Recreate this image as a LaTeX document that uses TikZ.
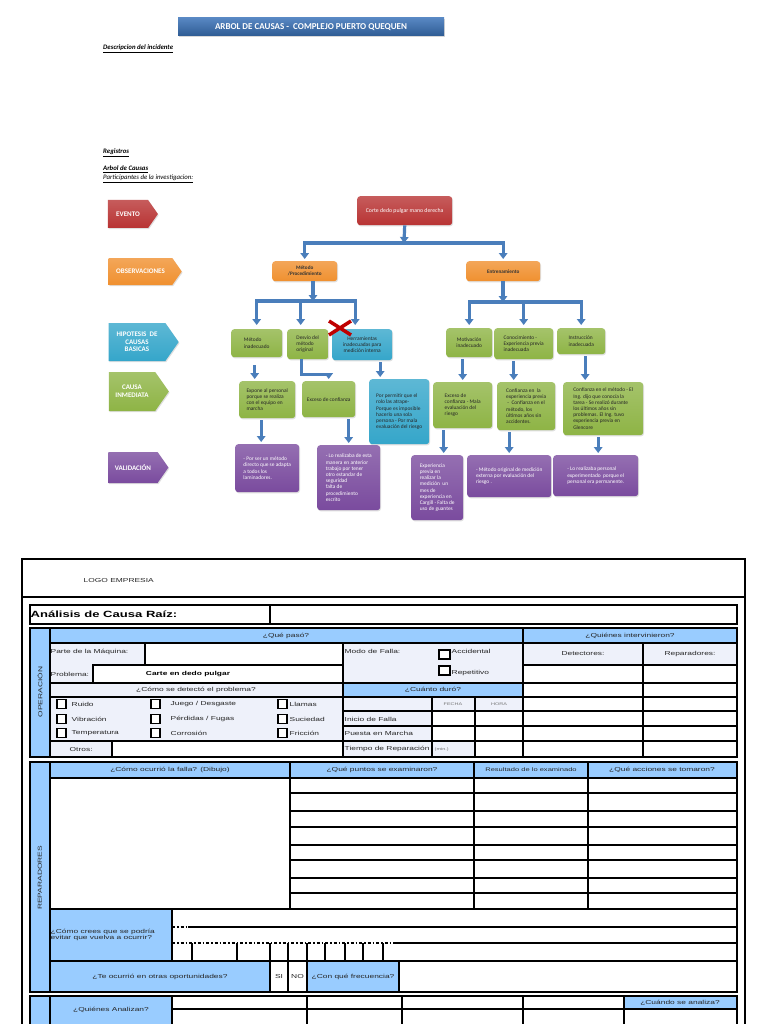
\documentclass[tikz,border=0pt]{standalone}
\usepackage{fontspec}
\setmainfont{Carlito}
\newfontfamily\formfont[FakeStretch=1.45]{Liberation Sans}
\usepackage{xcolor}
\usetikzlibrary{positioning, arrows.meta, calc, shapes.symbols, shadows}

\definecolor{evred}{HTML}{B83333}
\definecolor{obsorange}{HTML}{F0902F}
\definecolor{hypcyan}{HTML}{35A6CA}
\definecolor{cigreen}{HTML}{8EB445}
\definecolor{valpurple}{HTML}{7A4B9E}
\definecolor{connblue}{HTML}{4A7EBB}
\definecolor{titleblue}{HTML}{3A72B8}
\definecolor{formblue}{HTML}{99CCFF}
\definecolor{formlight}{HTML}{EEF1FA}

\begin{document}
\begin{tikzpicture}[
    x=1pt, y=-1pt,
    tree/.style={rounded corners=3pt, anchor=north west, align=left,
                 inner sep=2pt, font=\fontsize{5.4}{6.2}\selectfont,
                 drop shadow={opacity=0.25, shadow xshift=0.8pt, shadow yshift=-1.2pt}},
    redbox/.style={tree, top color=evred!80, bottom color=evred, text=white, align=center},
    orangebox/.style={tree, top color=obsorange!80, bottom color=obsorange, text=black!80,
                      align=center, font=\fontsize{5.2}{6}\selectfont\bfseries},
    greenbox/.style={tree, top color=cigreen!80, bottom color=cigreen, text=black!85},
    cyanbox/.style={tree, top color=hypcyan!80, bottom color=hypcyan, text=black!85},
    purplebox/.style={tree, top color=valpurple!80, bottom color=valpurple, text=white},
    tag/.style={signal, signal to=east, signal pointer angle=110, align=center,
                inner sep=1pt, text=white, font=\fontsize{7}{7.6}\selectfont\bfseries,
                drop shadow={opacity=0.25, shadow xshift=0.8pt, shadow yshift=-1.2pt}},
    titlebar/.style={top color=titleblue!85, bottom color=titleblue!80!black, text=white,
                     font=\fontsize{9}{10}\selectfont\bfseries,
                     drop shadow={opacity=0.3, shadow xshift=1pt, shadow yshift=-1.5pt}},
    head/.style={anchor=west, inner sep=0pt, font=\fontsize{6.8}{7.4}\selectfont\bfseries\itshape},
    conn/.style={-{Triangle[width=8.5pt,length=6pt]}, draw=connblue, line width=3.2pt,
                 shorten >=2pt},
    xmark/.style={draw=red!75!black, line width=3.5pt},
    % form
    grid/.style={draw=black, line width=1.5pt},
    frame/.style={draw=black, line width=1.5pt},
    cellblue/.style={fill=formblue},
    celllight/.style={fill=formlight},
    chkbox/.style={draw=black, line width=1.4pt, fill=white},
    ftxt/.style={inner sep=0.5pt, text=black!85, font=\formfont\fontsize{5.8}{6.6}\selectfont},
    fsmall/.style={inner sep=0.5pt, text=black!55, font=\formfont\fontsize{3.8}{4.4}\selectfont},
]

\fill[white] (0,0) rectangle (768,1024);
\useasboundingbox (0,0) rectangle (768,1024);

% Title and headings
\node[titlebar, minimum width=266, minimum height=18] (titulo) at (311,27)
  {ARBOL DE CAUSAS -\ \ COMPLEJO PUERTO QUEQUEN};
\node[head] (desc) at (103,49) {\underline{Descripcion del incidente}};
\node[head] (regis) at (103,153) {\underline{Registros}};
\node[head] (arbol) at (103,169) {\underline{Arbol de Causas}};
\node[head, font=\fontsize{6.8}{7.4}\selectfont\itshape] (partic) at (103,179)
  {\underline{Participantes de la investigacion:}};

% Level tags (left column)
\node[tag, top color=evred!80, bottom color=evred, minimum width=50, minimum height=28] (evento) at (128,214) {EVENTO};
\node[tag, top color=obsorange!80, bottom color=obsorange, minimum width=73, minimum height=27] (obs) at (140.5,271.5) {OBSERVACIONES};
\node[tag, top color=hypcyan!80, bottom color=hypcyan, minimum width=70, minimum height=38] (hip) at (137,342) {HIPOTESIS\ \ DE\\CAUSAS\\BASICAS};
\node[tag, top color=cigreen!80, bottom color=cigreen, minimum width=60, minimum height=39] (causa) at (132,391.5) {CAUSA\\INMEDIATA};
\node[tag, top color=valpurple!80, bottom color=valpurple, minimum width=60, minimum height=31] (valid) at (133,467.5) {VALIDACIÓN};

% Event and observations
\node[redbox, minimum width=95, minimum height=29, font=\fontsize{5.8}{6.6}\selectfont] (corte) at (357,196) {Corte dedo pulgar mano derecha};
\node[orangebox, minimum width=65, minimum height=20] (metodo) at (272,261) {Método\\/Procedimiento};
\node[orangebox, minimum width=74, minimum height=20] (entren) at (466,261) {Entrenamiento};

% Basic cause hypotheses
\node[greenbox, minimum width=51, minimum height=28] (hcb1) at (231,329) {Método\\inadecuado};
\node[greenbox, minimum width=41, minimum height=30] (hcb2) at (287,329) {Desvío del\\método\\original};
\node[cyanbox, minimum width=60, minimum height=31, align=center] (hcb3) at (332,329) {Herramientas\\inadecuadas para\\medición interna};
\node[greenbox, minimum width=46, minimum height=29, align=center] (hcb4) at (446,328) {Motivación\\inadecuado};
\node[greenbox, minimum width=59, minimum height=31] (hcb5) at (494,328) {Conocimiento -\\Experiencia previa\\inadecuada};
\node[greenbox, minimum width=48, minimum height=26] (hcb6) at (557,328) {Instrucción\\inadecuada};

% Immediate causes
\node[greenbox, minimum width=56, minimum height=37] (ci1) at (239,381) {Expone al personal\\porque se realiza\\con el equipo en\\marcha};
\node[greenbox, minimum width=53, minimum height=36] (ci2) at (302,381) {Exceso de confianza};
\node[cyanbox, minimum width=60, minimum height=65] (ci3) at (369,379) {Por permitir que el\\rolo las atrape-\\Porque es imposible\\hacerlo una sola\\persona - Por mala\\evaluación del riesgo};
\node[greenbox, minimum width=59, minimum height=46] (ci4) at (433,382) {Exceso de\\confianza - Mala\\evaluación del\\riesgo};
\node[greenbox, minimum width=58, minimum height=48] (ci5) at (497,382) {Confianza en\ \ la\\experiencia previa\\\ -\ \ Confianza en el\\método, los\\últimos años sin\\accidentes.};
\node[greenbox, minimum width=80, minimum height=53] (ci6) at (563,382) {Confianza en el método - El\\Ing. dijo que conocía la\\tarea - Se realizó durante\\los últimos años sin\\problemas. El Ing. tuvo\\experiencia previa en\\Glencore};

% Validation
\node[purplebox, minimum width=64, minimum height=48] (v1) at (235,444) {- Por ser un método\\directo que se adapta\\a todos los\\laminadores.};
\node[purplebox, minimum width=63, minimum height=65] (v2) at (317,445) {- Lo realizaba de esta\\manera en anterior\\trabajo por tener\\otro estandar de\\seguridad\\falta de\\procedimiento\\escrito};
\node[purplebox, minimum width=52, minimum height=65] (v3) at (411,455) {Experiencia\\previa en\\realizar la\\medición\ \ un\\mes de\\experiencia en\\Cargill - Falta de\\uso de guantes};
\node[purplebox, minimum width=84, minimum height=42] (v4) at (467,455) {- Método original de medición\\externa por evaluación del\\riesgo .};
\node[purplebox, minimum width=85, minimum height=41] (v5) at (553,455) {- Lo realizaba personal\\experimentado\ \ porque el\\personal era permanente.};

% Connectors
\coordinate (b1) at (404,243);
\coordinate (b2) at (313,301);
\coordinate (b3) at (503,302);
\draw[conn, shorten >=0pt] (corte.south) -- (b1);
\draw[conn] (b1) -| (metodo.north);
\draw[conn] (b1) -| (entren.north);
\draw[conn, shorten >=0pt] (b2 |- metodo.south) -- (b2);
\draw[conn, shorten >=4pt] (b2) -| (hcb1.north);
\draw[conn, shorten >=4pt] (b2) -| ([xshift=-7pt]hcb2.north);
\draw[conn, shorten >=4pt] (b2) -| ([xshift=-7pt]hcb3.north);
\draw[conn, shorten >=0pt] (b3 |- entren.south) -- (b3);
\draw[conn, shorten >=3pt] (b3) -| (hcb4.north);
\draw[conn, shorten >=3pt] (b3) -| (hcb5.north);
\draw[conn, shorten >=3pt] (b3) -| (hcb6.north);
\draw[conn, shorten <=8pt] ([xshift=-2pt]hcb1.south) -- ([xshift=-2pt]hcb1.south |- ci1.north);
\draw[conn, line join=miter] ([xshift=-6pt]hcb2.south) -- ++(0,15) -| (ci2.north);
\draw[conn, shorten <=2pt] ([xshift=18pt]hcb3.south) -- ([xshift=18pt]hcb3.south |- ci3.north);
\draw[conn, shorten <=2pt] (ci4.north |- hcb4.south) -- (ci4.north);
\draw[conn, shorten <=2pt] ([xshift=-10pt]hcb5.south) -- ([xshift=-10pt]hcb5.south |- ci5.north);
\draw[conn, shorten <=2pt] ([xshift=4pt]hcb6.south) -- ([xshift=4pt]hcb6.south |- ci6.north);
\draw[conn, shorten <=2pt] ([xshift=-6pt]ci1.south) -- ([xshift=-6pt]ci1.south |- v1.north);
\draw[conn, shorten <=2pt] (v2.north |- ci2.south) -- (v2.north);
\draw[conn, shorten <=2pt] ([xshift=-19pt]ci4.south) -- ([xshift=-19pt]ci4.south |- v3.north);
\draw[conn, shorten <=2pt] (v4.north |- ci5.south) -- (v4.north);
\draw[conn, shorten <=2pt] ([xshift=-5pt]ci6.south) -- ([xshift=-5pt]ci6.south |- v5.north);

% Discarded hypothesis
\draw[xmark] (329,321) -- (351,335);
\draw[xmark] (329,335) -- (351,321);

% ---------------- Form ----------------
% fills
\fill[cellblue] (30,628) rectangle (50,757);
\fill[cellblue] (50,628) rectangle (737,643);
\fill[cellblue] (343,683) rectangle (523,697);
\fill[celllight] (50,643) rectangle (145,665);
\fill[celllight] (50,665) rectangle (93,683);
\fill[celllight] (50,683) rectangle (343,741);
\fill[celllight] (50,741) rectangle (112,757);
\fill[celllight] (343,643) rectangle (523,683);
\fill[celllight] (343,697) rectangle (432,757);
\fill[celllight] (432,697) rectangle (523,711);
\fill[celllight] (432,741) rectangle (475,757);
\fill[celllight] (523,643) rectangle (737,665);
\fill[cellblue] (30,762) rectangle (50,992);
\fill[cellblue] (50,762) rectangle (737,778);
\fill[cellblue] (50,909) rectangle (172,961);
\fill[cellblue] (50,961) rectangle (270,992);
\fill[cellblue] (307,961) rectangle (399,992);
\fill[cellblue] (30,996) rectangle (50,1024);
\fill[cellblue] (50,996) rectangle (172,1024);
\fill[cellblue] (624,996) rectangle (737,1009);

% outer frame and title row
\draw[frame] (22,1026) -- (22,559) -- (745,559) -- (745,1026);
\draw[frame] (22,597) -- (745,597);
\draw[grid] (30,605) rectangle (737,624);
\draw[grid] (270,605) -- (270,624);

% operation block
\draw[grid] (30,628) rectangle (737,757);
\draw[grid] (50,628) -- (50,757);
\draw[grid] (50,643) -- (737,643);
\draw[grid] (145,643) rectangle (343,665);
\draw[grid] (93,665) rectangle (343,683);
\draw[grid] (50,683) -- (737,683);
\draw[grid] (50,697) -- (737,697);
\draw[grid] (50,741) -- (737,741);
\draw[grid] (343,711) -- (737,711);
\draw[grid] (343,726) -- (737,726);
\draw[grid] (523,665) -- (737,665);
\draw[grid] (112,741) -- (112,757);
\draw[grid] (343,643) -- (343,757);
\draw[grid] (523,628) -- (523,757);
\draw[grid] (643,643) -- (643,757);
\draw[grid] (432,697) -- (432,757);
\draw[grid] (475,697) -- (475,757);

% repairers block
\draw[grid] (30,762) rectangle (737,992);
\draw[grid] (50,762) -- (50,992);
\draw[grid] (50,778) -- (737,778);
\foreach \xx in {290,474,588}
  \draw[grid] (\xx,762) -- (\xx,909);
\foreach \yy in {793,811,827,845,860,878,893}
  \draw[grid] (290,\yy) -- (737,\yy);
\draw[grid] (50,909) -- (737,909);
\draw[grid] (172,909) -- (172,961);
\draw[grid, dash dot] (172,927) -- (188,927);
\draw[grid] (188,927) -- (737,927);
\draw[grid, dash dot] (172,943) -- (393,943);
\draw[grid] (393,943) -- (737,943);
\foreach \xx in {192,237,270,288,307,325,345,363,383}
  \draw[grid] (\xx,943) -- (\xx,961);
\draw[grid] (50,961) -- (737,961);
\foreach \xx in {270,288,307,399}
  \draw[grid] (\xx,961) -- (\xx,992);

% analysis block
\draw[grid] (30,1026) -- (30,996) -- (737,996) -- (737,1026);
\draw[grid] (50,996) -- (50,1026);
\foreach \xx in {172,307,402,523,624}
  \draw[grid] (\xx,996) -- (\xx,1026);
\draw[grid] (172,1009) -- (737,1009);

% check boxes
\foreach \yy/\la/\lb/\lc [count=\i] in {704/Ruido/{Juego / Desgaste}/Llamas,
    719/Vibración/{Pérdidas / Fugas}/Suciedad, 733/Temperatura/Corrosión/Fricción} {
  \draw[chkbox] (57,\yy-4.5) rectangle (66,\yy+4.5);
  \draw[chkbox] (151,\yy-4.5) rectangle (160,\yy+4.5);
  \draw[chkbox] (278,\yy-4.5) rectangle (287,\yy+4.5);
  \node[ftxt, anchor=west] (cka\i) at (71,\yy) {\la};
  \node[ftxt, anchor=west] (ckb\i) at (170,\yy) {\lb};
  \node[ftxt, anchor=west] (ckc\i) at (289,\yy) {\lc};
}
\draw[chkbox] (439,650) rectangle (450,659);
\draw[chkbox] (439,666) rectangle (450,675);

% form texts
\node[ftxt, anchor=west] (logo) at (83,580) {LOGO EMPRESIA};
\node[ftxt, anchor=west, text=black, font=\formfont\fontsize{9}{10}\selectfont\bfseries] (acr) at (30,614) {Análisis de Causa Raíz:};
\node[ftxt] (qpaso) at (286,635.5) {¿Qué pasó?};
\node[ftxt] (quienes) at (630,635.5) {¿Quiénes intervinieron?};
\node[ftxt, anchor=west] (parte) at (50,652) {Parte de la Máquina:};
\node[ftxt, anchor=west] (modo) at (344,651) {Modo de Falla:};
\node[ftxt, anchor=west] (accid) at (451,651) {Accidental};
\node[ftxt, anchor=west] (repet) at (451,673) {Repetitivo};
\node[ftxt] (detect) at (583,654) {Detectores:};
\node[ftxt] (repar) at (690,654) {Reparadores:};
\node[ftxt, anchor=west] (probl) at (50,674) {Problema:};
\node[ftxt, text=black, font=\formfont\fontsize{5.8}{6.6}\selectfont\bfseries] (cval) at (188,674) {Carte en dedo pulgar};
\node[ftxt] (comodet) at (196,690) {¿Cómo se detectó el problema?};
\node[ftxt] (cuanto) at (433,690) {¿Cuánto duró?};
\node[fsmall] (fecha) at (453,704) {FECHA};
\node[fsmall] (hora) at (499,704) {HORA};
\node[ftxt, anchor=west] (inicio) at (344,719) {Inicio de Falla};
\node[ftxt, anchor=west] (puesta) at (344,733.5) {Puesta en Marcha};
\node[ftxt, anchor=west] (tiempo) at (344,749) {Tiempo de Reparación};
\node[fsmall, anchor=west] (minut) at (434,749.5) {(min.)};
\node[ftxt, anchor=west] (otros) at (69,749) {Otros:};
\node[ftxt, rotate=90] (oper) at (40,692) {OPERACIÓN};

\node[ftxt] (comoocu) at (170,770) {¿Cómo ocurrió la falla? (Dibujo)};
\node[ftxt] (puntos) at (382,770) {¿Qué puntos se examinaron?};
\node[ftxt, font=\formfont\fontsize{5.2}{6}\selectfont] (result) at (531,770) {Resultado de lo examinado};
\node[ftxt] (acciones) at (662,770) {¿Qué acciones se tomaron?};
\node[ftxt, anchor=west, align=left] (evitar) at (50,935) {¿Cómo crees que se podría\\evitar que vuelva a ocurrir?};
\node[ftxt] (teocu) at (160,976.5) {¿Te ocurrió en otras oportunidades?};
\node[ftxt] (si) at (279,976.5) {SI};
\node[ftxt] (no) at (297.5,976.5) {NO};
\node[ftxt] (frec) at (353,976.5) {¿Con qué frecuencia?};
\node[ftxt, rotate=90] (repa) at (40,878) {REPARADORES};

\node[ftxt] (analizan) at (111,1010) {¿Quiénes Analizan?};
\node[ftxt] (cuando) at (680,1002.5) {¿Cuándo se analiza?};

\end{tikzpicture}
\end{document}
